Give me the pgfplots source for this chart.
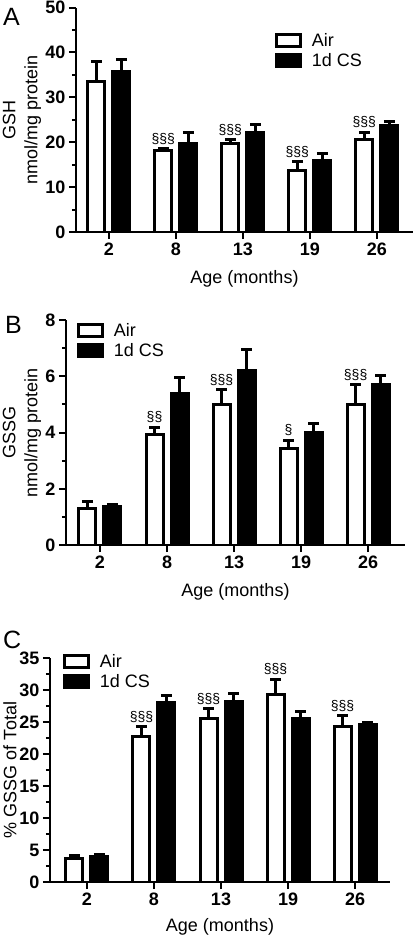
\documentclass[border=0pt]{standalone}
\usepackage{pgfplots}
\pgfplotsset{compat=1.18}
\usepackage{pgfplotstable}
\usepackage{fontspec}
\setmainfont{Liberation Sans}

\pgfplotstableread{
x air airerr cs cserr
0 33.6 4.3 35.8 2.7
1 18.2 0.4 19.7 2.4
2 19.7 0.9 22.2 1.8
3 13.8 1.9 16.0 1.5
4 20.7 1.5 23.7 0.9
}\dataA
\pgfplotstableread{
x y lab
1 18.6 §§§
2 20.6 §§§
3 15.7 §§§
4 22.2 §§§
}\labA

\pgfplotstableread{
x air airerr cs cserr
0 1.30 0.26 1.36 0.07
1 3.93 0.26 5.38 0.57
2 5.00 0.53 6.21 0.74
3 3.44 0.29 4.00 0.32
4 5.00 0.69 5.69 0.32
}\dataB
\pgfplotstableread{
x y lab
1 4.19 §§
2 5.53 §§§
3 3.73 §
4 5.69 §§§
}\labB

\pgfplotstableread{
x air airerr cs cserr
0 3.7 0.5 4.0 0.3
1 22.8 1.5 28.1 1.0
2 25.5 1.6 28.2 1.3
3 29.3 2.4 25.5 1.1
4 24.3 1.7 24.6 0.3
}\dataC
\pgfplotstableread{
x y lab
1 24.3 §§§
2 27.1 §§§
3 31.7 §§§
4 26.0 §§§
}\labC

\pgfplotsset{
  panel/.style={
    scale only axis,
    ybar, bar width=17pt,
    axis x line*=bottom, axis y line*=left,
    axis line style={line width=2.5pt, black},
    tick style={line width=2pt, black},
    tick align=outside,
    major tick length=7pt, minor tick length=4pt,
    xtick={0,1,2,3,4}, xticklabels={2,8,13,19,26},
    minor y tick num=1,
    ymin=0,
    tick label style={font=\fontsize{18}{20}\selectfont\bfseries},
    /pgf/number format/assume math mode=true,
    xlabel={Age (months)},
    xlabel style={at={(axis description cs:0.5,0)}, anchor=north, inner sep=0pt, font=\fontsize{18}{20}\selectfont},
    ylabel style={at={(axis description cs:0,0.5)}, anchor=center, align=center, font=\fontsize{18}{22}\selectfont},
    legend style={draw=none, fill=none, inner sep=0pt, outer sep=0pt, anchor=north west,
      font=\fontsize{18}{20}\selectfont, row sep=4pt, nodes={inner sep=1pt},
      /tikz/every odd column/.append style={column sep=9pt}},
    legend cell align=left,
  },
  airbar/.style={bar shift=-12.5pt, fill=white, draw=black, line width=3pt,
    legend image code/.code={\draw[fill=white, draw=black, line width=3pt] (0pt,-6pt) rectangle (24pt,6pt);},
    error bars/y dir=plus, error bars/y explicit,
    error bars/error bar style={line width=3pt, black},
    error bars/error mark options={rotate=90, line width=3pt, mark size=5.5pt, black}},
  csbar/.style={bar shift=12.5pt, fill=black, draw=black, line width=3pt,
    legend image code/.code={\draw[fill=black, draw=black, line width=3pt] (0pt,-6pt) rectangle (24pt,6pt);},
    error bars/y dir=plus, error bars/y explicit,
    error bars/error bar style={line width=3pt, black},
    error bars/error mark options={rotate=90, line width=3pt, mark size=5.5pt, black}},
  siglab/.style={bar shift=-12.5pt, draw=none, fill=none, forget plot, nodes near coords, point meta=explicit symbolic,
    every node near coord/.append style={font=\fontsize{14}{14}\selectfont, anchor=south, inner sep=0pt, yshift=4pt}},
}

\begin{document}
\begin{tikzpicture}
\useasboundingbox (0,0) rectangle (415pt,-937pt);

% Panel A
\begin{axis}[panel, at={(76pt,-232pt)}, anchor=south west,
  width=337pt, height=224.5pt, xmin=-0.49, xmax=4.54,
  ymax=50, ytick={0,10,...,50},
  xlabel style={yshift=-38pt},
  ylabel={GSH\\nmol/mg protein}, ylabel style={yshift=54pt},
  legend style={at={(axis description cs:0.59,0.891)}}]
\addplot[airbar] table[x=x, y=air, y error=airerr] {\dataA};
\addplot[csbar] table[x=x, y=cs, y error=cserr] {\dataA};
\addplot[siglab] table[x=x, y=y, meta=lab] {\labA};
\legend{Air, 1d CS}
\end{axis}

% Panel B
\begin{axis}[panel, at={(66pt,-545pt)}, anchor=south west,
  width=339pt, height=225pt, xmin=-0.507, xmax=4.55,
  ymax=8, ytick={0,2,...,8},
  xlabel style={yshift=-38pt},
  ylabel={GSSG\\nmol/mg protein}, ylabel style={yshift=44pt},
  legend style={at={(axis description cs:0.032,0.991)}}]
\addplot[airbar] table[x=x, y=air, y error=airerr] {\dataB};
\addplot[csbar] table[x=x, y=cs, y error=cserr] {\dataB};
\addplot[siglab] table[x=x, y=y, meta=lab] {\labB};
\legend{Air, 1d CS}
\end{axis}

% Panel C
\begin{axis}[panel, at={(50pt,-882pt)}, anchor=south west,
  width=340pt, height=224pt, xmin=-0.552, xmax=4.522,
  ymax=35, ytick={0,5,...,35},
  xlabel style={yshift=-36pt},
  ylabel={\% GSSG of Total}, ylabel style={yshift=40pt},
  legend style={at={(axis description cs:0.038,1.022)}}]
\addplot[airbar] table[x=x, y=air, y error=airerr] {\dataC};
\addplot[csbar] table[x=x, y=cs, y error=cserr] {\dataC};
\addplot[siglab] table[x=x, y=y, meta=lab] {\labC};
\legend{Air, 1d CS}
\end{axis}

\node[anchor=base west, inner sep=0pt, font=\fontsize{25}{25}\selectfont] at (3pt,-25pt) {A};
\node[anchor=base west, inner sep=0pt, font=\fontsize{25}{25}\selectfont] at (5pt,-333pt) {B};
\node[anchor=base west, inner sep=0pt, font=\fontsize{25}{25}\selectfont] at (3pt,-648pt) {C};
\end{tikzpicture}
\end{document}
